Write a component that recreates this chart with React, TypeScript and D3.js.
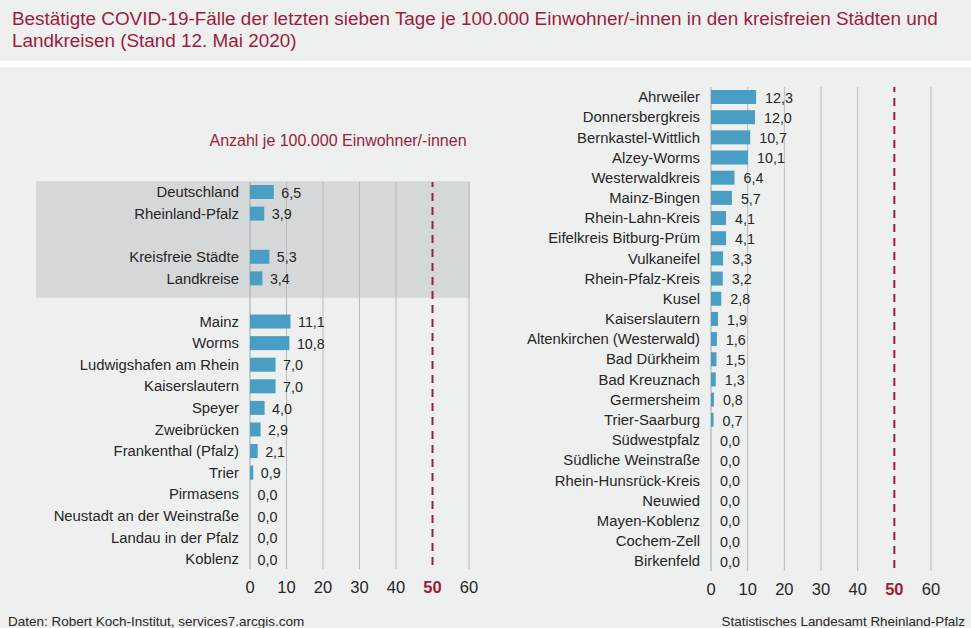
import React from "react";
import * as d3 from "d3";

const titleLines = [
  "Bestätigte COVID-19-Fälle der letzten sieben Tage je 100.000 Einwohner/-innen in den kreisfreien Städten und",
  "Landkreisen (Stand 12. Mai 2020)",
];
const unitLabel = "Anzahl je 100.000 Einwohner/-innen";
const sourceLeft = "Daten: Robert Koch-Institut, services7.arcgis.com";
const sourceRight = "Statistisches Landesamt Rheinland-Pfalz";

const summaryNames = ["Deutschland", "Rheinland-Pfalz", "", "Kreisfreie Städte", "Landkreise"];
const summaryValues = [6.5, 3.9, null, 5.3, 3.4];

const cityNames = [
  "Mainz", "Worms", "Ludwigshafen am Rhein", "Kaiserslautern", "Speyer", "Zweibrücken",
  "Frankenthal (Pfalz)", "Trier", "Pirmasens", "Neustadt an der Weinstraße", "Landau in der Pfalz", "Koblenz",
];
const cityValues = [11.1, 10.8, 7.0, 7.0, 4.0, 2.9, 2.1, 0.9, 0.0, 0.0, 0.0, 0.0];

const districtNames = [
  "Ahrweiler", "Donnersbergkreis", "Bernkastel-Wittlich", "Alzey-Worms", "Westerwaldkreis", "Mainz-Bingen",
  "Rhein-Lahn-Kreis", "Eifelkreis Bitburg-Prüm", "Vulkaneifel", "Rhein-Pfalz-Kreis", "Kusel", "Kaiserslautern",
  "Altenkirchen (Westerwald)", "Bad Dürkheim", "Bad Kreuznach", "Germersheim", "Trier-Saarburg", "Südwestpfalz",
  "Südliche Weinstraße", "Rhein-Hunsrück-Kreis", "Neuwied", "Mayen-Koblenz", "Cochem-Zell", "Birkenfeld",
];
const districtValues = [
  12.3, 12.0, 10.7, 10.1, 6.4, 5.7, 4.1, 4.1, 3.3, 3.2, 2.8, 1.9, 1.6, 1.5, 1.3, 0.8, 0.7, 0.0, 0.0, 0.0, 0.0, 0.0, 0.0, 0.0,
];

const xTicks = [0, 10, 20, 30, 40, 50, 60];
const threshold = 50;

const W = 971;
const H = 628;
const FONT = "Liberation Sans, Arial, sans-serif";
const BG = "#eef0ef";
const BAR = "#4a9dc3";
const RED = "#9c1c3b";
const GRID = "#b9bcbc";
const TEXT = "#262626";

const fmt = (v: number) => v.toFixed(1).replace(".", ",");

type Row = { name: string; value: number | null; slot: number };

function Panel({
  rows,
  slots,
  x0,
  x1,
  yFirst,
  yLast,
  gridTop,
  gridBottom,
  valueGap,
  box,
}: {
  rows: Row[];
  slots: number;
  x0: number;
  x1: number;
  yFirst: number;
  yLast: number;
  gridTop: number;
  gridBottom: number;
  valueGap: number;
  box?: { from: number; to: number; left: number };
}) {
  const x = d3.scaleLinear().domain([0, 60]).range([x0, x1]);
  const y = d3.scaleLinear().domain([0, slots - 1]).range([yFirst, yLast]);
  const step = y(1) - y(0);
  const barH = 14;
  return (
    <g>
      {box && (
        <rect
          x={box.left}
          y={y(box.from) - step / 2}
          width={x(60) + 1 - box.left}
          height={y(box.to) - y(box.from) + step * 1.4}
          fill="#d5d8d8"
        />
      )}
      {xTicks.map((t) =>
        t === threshold ? (
          <line
            key={t}
            x1={x(t)}
            x2={x(t)}
            y1={gridTop}
            y2={gridBottom}
            stroke={RED}
            strokeWidth={2}
            strokeDasharray="8,6"
            strokeDashoffset={3}
          />
        ) : (
          <line key={t} x1={x(t)} x2={x(t)} y1={gridTop} y2={gridBottom} stroke={t === 0 ? "#a3a6a6" : GRID} strokeWidth={1} />
        )
      )}
      {xTicks.map((t) => (
        <text
          key={"t" + t}
          x={x(t)}
          y={gridBottom + 24}
          textAnchor="middle"
          fontSize={16.5}
          fontFamily={FONT}
          fontWeight={t === threshold ? "bold" : "normal"}
          fill={t === threshold ? RED : TEXT}
        >
          {t}
        </text>
      ))}
      {rows.map((r) =>
        r.value === null ? null : (
          <g key={r.slot}>
            <text x={x0 - 11} y={y(r.slot)} dy="0.35em" textAnchor="end" fontSize={14.85} fontFamily={FONT} fill={TEXT}>
              {r.name}
            </text>
            <rect x={x(0)} y={y(r.slot) - barH / 2} width={x(r.value) - x(0)} height={barH} fill={BAR} />
            <text x={x(r.value) + valueGap} y={y(r.slot)} dy="0.4em" fontSize={14.3} fontFamily={FONT} fill={TEXT}>
              {fmt(r.value)}
            </text>
          </g>
        )
      )}
    </g>
  );
}

export default function App() {
  const leftRows: Row[] = [
    ...summaryNames.map((n, i) => ({ name: n, value: summaryValues[i], slot: i })),
    ...cityNames.map((n, i) => ({ name: n, value: cityValues[i], slot: summaryNames.length + 1 + i })),
  ];
  const leftSlots = summaryNames.length + 1 + cityNames.length;
  const rightRows: Row[] = districtNames.map((n, i) => ({ name: n, value: districtValues[i], slot: i }));

  return (
    <svg
      width={W}
      height={H}
      fontFamily={FONT}
      style={{ position: "absolute", left: 0, top: 0, display: "block" }}
    >
      <rect x={0} y={0} width={W} height={H} fill={BG} />
      <rect x={0} y={61} width={W} height={6} fill="#ffffff" />
      {titleLines.map((l, i) => (
        <text key={i} x={12} y={25 + i * 22} fontSize={18.9} fontFamily={FONT} fill={RED}>
          {l}
        </text>
      ))}
      <text x={338} y={146} textAnchor="middle" fontSize={16} fontFamily={FONT} fill={RED}>
        {unitLabel}
      </text>
      <Panel
        rows={leftRows}
        slots={leftSlots}
        x0={250}
        x1={469}
        yFirst={192}
        yLast={559}
        gridTop={182}
        gridBottom={569}
        valueGap={7.5}
        box={{ from: 0, to: 4, left: 36 }}
      />
      <Panel
        rows={rightRows}
        slots={districtNames.length}
        x0={711}
        x1={931}
        yFirst={97}
        yLast={561}
        gridTop={87}
        gridBottom={571}
        valueGap={9}
      />
      <text x={8} y={626} fontSize={13.5} fontFamily={FONT} fill={TEXT}>
        {sourceLeft}
      </text>
      <text x={965} y={626} textAnchor="end" fontSize={13.4} fontFamily={FONT} fill={TEXT}>
        {sourceRight}
      </text>
    </svg>
  );
}
